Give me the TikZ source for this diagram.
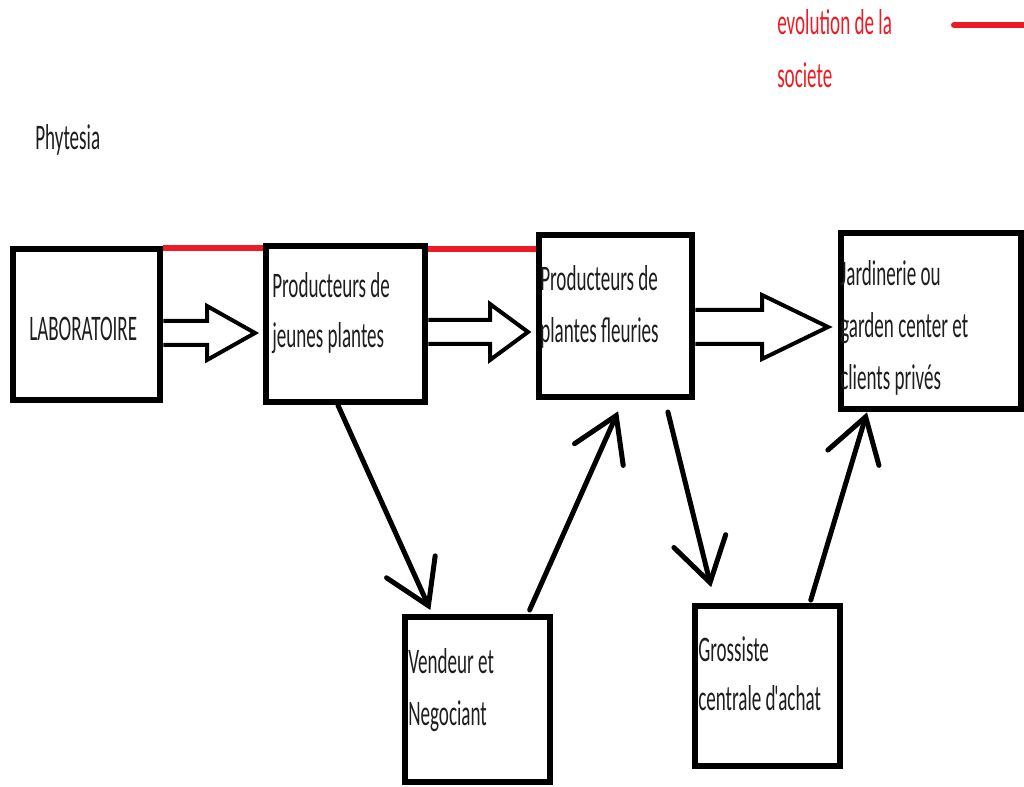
\documentclass[tikz,border=0pt]{standalone}
\usepackage{fontspec}
\setmainfont[FakeStretch=0.53]{Carlito}
\usetikzlibrary{arrows.meta,fit}

\definecolor{evored}{RGB}{237,28,36}
\definecolor{inkgray}{RGB}{30,30,30}

\begin{document}
\begin{tikzpicture}[x=0.75pt, y=-0.75pt,
  box/.style={draw, line width=5pt, inner sep=0pt},
  txt/.style={anchor=base west, inner sep=0pt, align=left, text=inkgray,
    font=\fontsize{27}{37.5}\selectfont},
  flow/.style={line width=3.75pt, line cap=round,
    -{Straight Barb[length=32pt, width=40pt, line cap=round]}},
  big/.style={draw, line width=3pt, fill=white},
  evo/.style={evored, line width=4.5pt}]
  \useasboundingbox (0,0) rectangle (1024,787);

  % Boxes
  \node[box, fit={(13,249) (160,400)}] (lab) {};
  \node[box, fit={(266,246) (425,402)}] (jeunes) {};
  \node[box, fit={(539,235) (692,397)}] (fleuries) {};
  \node[box, fit={(841,233) (1021,409)}] (jardin) {};
  \node[box, fit={(405,617) (550,782)}] (vendeur) {};
  \node[box, fit={(695,606) (840,766)}] (grossiste) {};

  % Texts (placed at the baseline of their last line)
  \node[txt] (phytesia) at (35,150) {Phytesia};
  \node[txt, text=evored, font=\fontsize{27}{40}\selectfont] (legende) at (777,88) {evolution de la\\societe};
  \node[txt] (labtxt) at (29,341) {LABORATOIRE};
  \node[txt] (jeunestxt) at (272,348) {Producteurs de\\jeunes plantes};
  \node[txt, font=\fontsize{27}{39.5}\selectfont] (fleuriestxt) at (540,343) {Producteurs de\\plantes fleuries};
  \node[txt, font=\fontsize{27}{39}\selectfont] (jardintxt) at (840,390) {Jardinerie ou\\garden center et\\clients privés};
  \node[txt, font=\fontsize{27}{39}\selectfont] (vendeurtxt) at (408,725) {Vendeur et\\Negociant};
  \node[txt, font=\fontsize{27}{36.5}\selectfont] (grossistetxt) at (698,710) {Grossiste\\centrale d\kern-1pt\textquotesingle\kern-3pt achat};

  % Evolution de la societe
  \coordinate (legA) at (954,25);
  \coordinate (legB) at (1024,25);
  \draw[evo, line cap=round] (legA) -- (legB);
  \draw[evo] ([yshift=-1.5pt]lab.north east) -- ([yshift=-1.5pt]lab.north east -| jeunes.west);
  \draw[evo] ([yshift=-4.5pt]jeunes.north east) -- ([yshift=-4.5pt]jeunes.north east -| fleuries.west);

  % Big arrows
  \foreach \a/\m/\s/\n/\h/\t in {lab/333/12/207/27/255, jeunes/332/12/490/28/528, fleuries/327/17/762/32/828}
    \draw[big] (\a.east |- 0,\m-\s) -- (\n,\m-\s) -- (\n,\m-\h) -- (\t,\m)
      -- (\n,\m+\h) -- (\n,\m+\s) -- (\a.east |- 0,\m+\s);

  % Flows
  \foreach \a/\xa/\b/\xb/\s/\e in {jeunes.south/338/vendeur.north/432/0/3,
      vendeur.north/528/fleuries.south/623/3/9, fleuries.south/665/grossiste.north/715/9/12,
      grossiste.north/810/jardin.south/867/2/0}
    \draw[flow, shorten <=\s pt, shorten >=\e pt] (\xa,0 |- \a) -- (\xb,0 |- \b);
\end{tikzpicture}
\end{document}
